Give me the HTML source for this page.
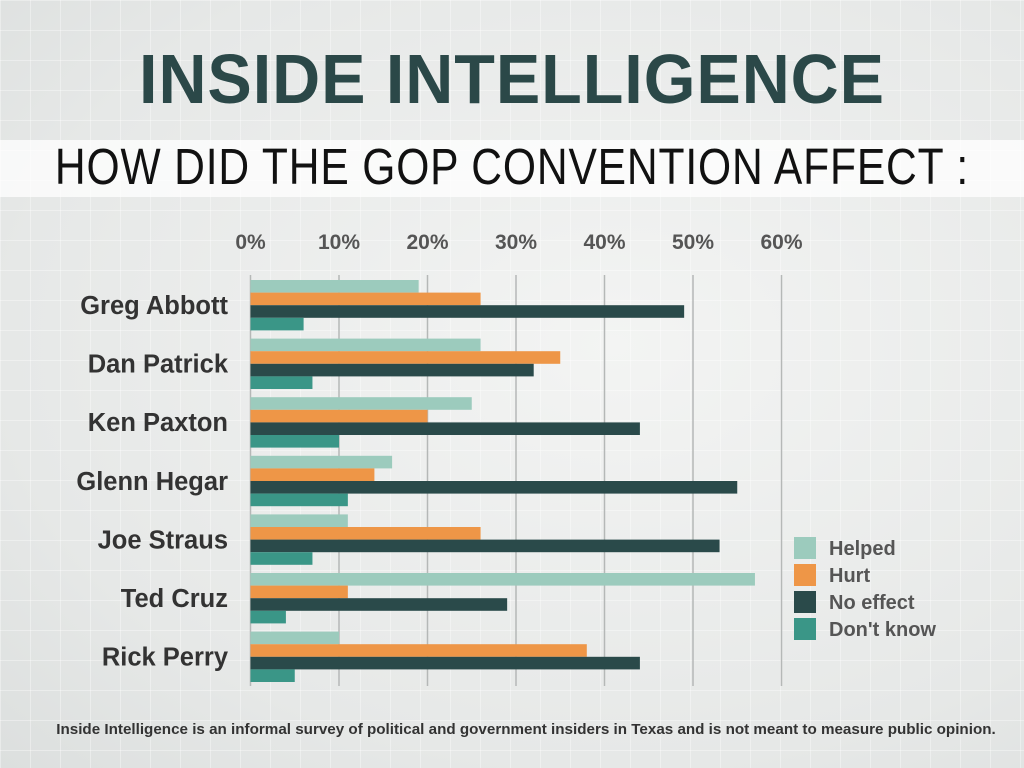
<!DOCTYPE html>
<html><head><meta charset="utf-8"><style>
body{margin:0;width:1024px;height:768px;overflow:hidden;font-family:"Liberation Sans",sans-serif;background:radial-gradient(ellipse at 60% 45%,#f3f4f3 0%,#e6e8e7 70%,#dcdfde 100%);position:relative}
.grid{position:absolute;inset:0;background-image:linear-gradient(rgba(255,255,255,.35) 1px,transparent 1px),linear-gradient(90deg,rgba(255,255,255,.35) 1px,transparent 1px);background-size:30px 30px}
#title{position:absolute;left:0;width:1024px;top:44px;line-height:1;text-align:center;font-size:70px;font-weight:900;color:#2b4848;letter-spacing:1px;transform:scaleX(0.95);white-space:nowrap}
#band{position:absolute;left:0;top:140px;width:1024px;height:57px;background:rgba(255,255,255,.75)}
#sub{position:absolute;left:-200px;width:1424px;top:141px;line-height:1;text-align:center;font-size:51px;color:#111;letter-spacing:1px;transform:scaleX(0.835);white-space:nowrap}
#foot{position:absolute;left:-186px;width:1424px;top:721px;text-align:center;font-size:15px;font-weight:bold;color:#333;white-space:nowrap;transform:scaleX(1.013)}
svg{position:absolute;left:0;top:0}
</style></head><body>
<div class="grid"></div>
<div id="title">INSIDE INTELLIGENCE</div>
<div id="band"></div>
<div id="sub">HOW DID THE GOP CONVENTION AFFECT :</div>
<svg id="chart" width="1024" height="768"></svg>
<div id="foot">Inside Intelligence is an informal survey of political and government insiders in Texas and is not meant to measure public opinion.</div>
<script>
const categories=["Greg Abbott","Dan Patrick","Ken Paxton","Glenn Hegar","Joe Straus","Ted Cruz","Rick Perry"];
const seriesNames=["Helped","Hurt","No effect","Don't know"];
const helped=[19,26,25,16,11,57,10];
const hurt=[26,35,20,14,26,11,38];
const noEffect=[49,32,44,55,53,29,44];
const dontKnow=[6,7,10,11,7,4,5];
const ticks=[0,10,20,30,40,50,60];
const colors=["#9ccbbd","#ee9647","#2a4a4a","#3a9687"];
const series=[helped,hurt,noEffect,dontKnow];
const svg=document.getElementById('chart');const NS="http://www.w3.org/2000/svg";
const x=v=>250.5+v*8.85;
const yGroup=i=>280+i*58.6;
const bh=12.6;
function mk(t,a){const e=document.createElementNS(NS,t);for(const k in a)e.setAttribute(k,a[k]);svg.appendChild(e);return e;}
ticks.forEach(t=>{
 const l=mk('line',{x1:x(t),x2:x(t),y1:275,y2:686,stroke:'#b5b8b7','stroke-width':1.5});
 
 
 const tx=mk('text',{x:x(t),y:249,'text-anchor':'middle','font-size':21,'font-weight':'bold',fill:'#555'});
 tx.textContent=t+'%';
 
 
});
categories.forEach((c,i)=>{
 series.forEach((s,j)=>{
  const r=mk('rect',{x:x(0),y:yGroup(i)+j*bh,width:x(s[i])-x(0),height:bh,fill:colors[j]});
  
  
 });
 const t=mk('text',{x:228,y:yGroup(i)+34,'text-anchor':'end','font-size':25.5,'font-weight':'bold',fill:'#333'});
 t.textContent=c;
 
 
});
seriesNames.forEach((n,j)=>{
 const y=537+j*27;
 const r=mk('rect',{x:794,y:y,width:22,height:22,fill:colors[j]});
 
 
 const t=mk('text',{x:829,y:y+18,'font-size':20,'font-weight':'bold',fill:'#555'});
 t.textContent=n;
 
 
});
</script>
</body></html>
